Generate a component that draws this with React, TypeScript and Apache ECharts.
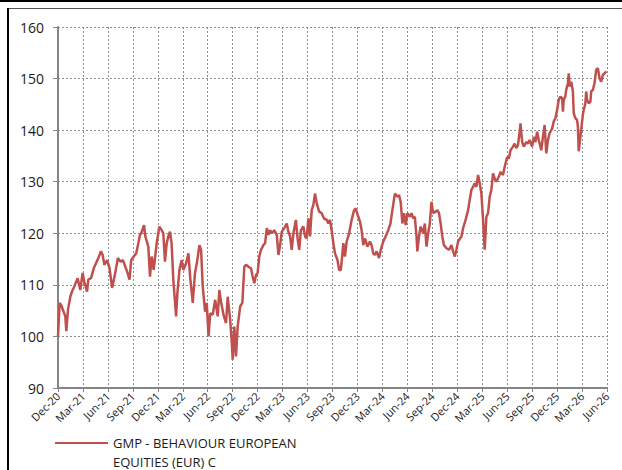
import React, { useEffect, useRef } from "react";
import * as echarts from "echarts";

const xLabels = [
  "Dec-20", "Mar-21", "Jun-21", "Sep-21", "Dec-21", "Mar-22", "Jun-22", "Sep-22",
  "Dec-22", "Mar-23", "Jun-23", "Sep-23", "Dec-23", "Mar-24", "Jun-24", "Sep-24",
  "Dec-24", "Mar-25", "Jun-25", "Sep-25", "Dec-25", "Mar-26", "Jun-26",
];

const seriesName = "GMP - BEHAVIOUR EUROPEAN\nEQUITIES (EUR) C";

// [months since Dec-20, value]
const nav2021: [number, number][] = [
  [0, 100], [0.2, 106.5], [0.4, 106], [0.88, 103.9], [1.0, 101], [1.2, 105.2], [1.48, 107.7],
  [1.68, 108.7], [1.96, 109.7], [2.36, 111.3], [2.68, 109], [2.96, 112.3], [3.16, 110.6],
  [3.49, 108.7], [3.65, 111], [3.97, 111.3], [4.3, 113.2], [4.57, 114.2], [4.85, 115.2],
  [5.17, 116.5], [5.37, 115.8], [5.57, 113.9], [5.9, 114.8], [6.2, 113.2], [6.5, 109.4],
  [6.8, 111.6], [7.2, 115.2], [7.5, 114.5], [7.8, 114.8], [8.1, 113.5], [8.3, 112.6],
  [8.6, 111], [8.8, 114.8], [9.1, 115.5], [9.4, 116.1], [9.7, 118.4], [9.86, 119.7],
  [10.0, 120], [10.34, 121.6], [10.5, 119.4], [10.86, 117.4], [11.06, 111.6], [11.26, 115.5],
  [11.5, 112.9], [11.86, 118],
];
const nav2022: [number, number][] = [
  [12.18, 121.3], [12.46, 120.6], [12.66, 120], [12.86, 114.5], [13.06, 118], [13.26, 119.4],
  [13.46, 120.3], [13.66, 118], [13.86, 111], [14.2, 103.9], [14.35, 108.4], [14.6, 112.9],
  [14.87, 114.8], [15.07, 112.9], [15.4, 114.2], [15.68, 116.1], [15.9, 111.3], [16.2, 106.5],
  [16.47, 112.3], [16.75, 114.8], [17.0, 117.7], [17.2, 116.8], [17.4, 109.7], [17.68, 104.8],
  [17.88, 106.5], [18.1, 100], [18.3, 104.5], [18.6, 104.2], [18.9, 107.1], [19.2, 103.9],
  [19.4, 109], [19.55, 107.1], [19.9, 104.2], [20.2, 102.6], [20.4, 107.7], [20.7, 103.2],
  [20.9, 98.7], [21.0, 95.5], [21.2, 101.9], [21.4, 96.1], [21.6, 101.9], [21.9, 105.8],
  [22.16, 106.5], [22.4, 113.5], [22.6, 113.9], [22.9, 113.5], [23.2, 113.2], [23.4, 111.6],
  [23.6, 110.3], [23.8, 111.9],
];
const nav2023: [number, number][] = [
  [24.0, 112.3], [24.2, 115.5], [24.4, 116.8], [24.7, 117.7], [24.9, 118.1], [25.1, 121],
  [25.3, 119.7], [25.5, 120.6], [25.7, 120], [26.0, 120.6], [26.3, 119.7], [26.5, 115.8],
  [26.7, 117.7], [26.9, 120.3], [27.2, 121], [27.5, 121.9], [27.7, 120.3], [27.9, 119.4],
  [28.1, 116.8], [28.3, 120], [28.6, 122.6], [28.8, 119], [29.0, 116.8], [29.2, 120.6],
  [29.5, 121.3], [29.7, 119.4], [29.9, 119], [30.1, 122.9], [30.3, 119.4], [30.5, 124.5],
  [30.7, 125.5], [30.9, 127.7], [31.1, 125.8], [31.4, 124.2], [31.7, 123.9], [31.97, 122.9],
  [32.3, 122.6], [32.5, 121.9], [32.7, 122.6], [32.9, 120.6], [33.1, 118.1], [33.3, 116.1],
  [33.6, 114.8], [33.8, 112.9], [34.0, 112.9], [34.2, 116.1], [34.3, 118.1], [34.5, 115.5],
  [34.7, 118.4], [35.0, 120], [35.3, 122.6], [35.6, 124.5], [35.8, 124.8],
];
const nav2024: [number, number][] = [
  [36.1, 123.2], [36.3, 122.3], [36.5, 120.6], [36.7, 117.7], [36.9, 119], [37.2, 117.4],
  [37.5, 118.4], [37.7, 117.7], [37.9, 116.1], [38.1, 115.8], [38.3, 116.5], [38.6, 115.2],
  [38.8, 116.8], [39.1, 118.4], [39.4, 119.4], [39.7, 120.6], [39.97, 121.9], [40.2, 124.5],
  [40.5, 127.7], [40.8, 127.1], [41.0, 127.4], [41.2, 126.1], [41.4, 121.9], [41.6, 123.9],
  [41.8, 121.6], [42.0, 123.9], [42.3, 123.2], [42.5, 123.9], [42.7, 122.9], [42.9, 123.2],
  [43.1, 119.4], [43.2, 116.5], [43.4, 119.4], [43.6, 121.3], [43.9, 120], [44.1, 121.9],
  [44.3, 117.4], [44.5, 120], [44.7, 121.9], [44.9, 126.1], [45.1, 123.9], [45.4, 124.2],
  [45.6, 124.5], [45.8, 123.9], [46.0, 121.9], [46.2, 119.4], [46.4, 117.7], [46.7, 117.1],
  [47.0, 116.8], [47.3, 117.7], [47.5, 116.5], [47.7, 115.5], [47.9, 116.8],
];
const nav2025: [number, number][] = [
  [48.1, 118.4], [48.5, 119.4], [48.7, 121], [49.0, 122.6], [49.3, 124.5], [49.5, 126.5],
  [49.7, 128.4], [49.9, 129], [50.1, 129.7], [50.3, 129], [50.5, 131.3], [50.7, 129.7],
  [50.9, 127.7], [51.1, 122.6], [51.3, 116.8], [51.5, 123.2], [51.7, 123.9], [51.9, 127.1],
  [52.1, 128.4], [52.3, 131.6], [52.5, 130.6], [52.7, 130], [53.0, 131], [53.2, 131.9],
  [53.5, 131.3], [53.7, 132.9], [54.0, 134.8], [54.2, 134.5], [54.4, 136.1], [54.7, 136.8],
  [54.9, 137.4], [55.1, 136.5], [55.3, 137.1], [55.5, 139.7], [55.6, 141.3], [55.8, 137.7],
  [56.0, 136.8], [56.3, 137.7], [56.5, 137.4], [56.7, 138.1], [57.0, 136.8], [57.2, 138.7],
  [57.4, 137.7], [57.6, 139.7], [57.8, 138.1], [58.1, 136.1], [58.3, 138.7], [58.5, 141],
  [58.7, 135.5], [58.9, 138.1], [59.1, 139.4], [59.4, 140.3], [59.6, 141.7], [59.8, 142.3],
];
const nav2026: [number, number][] = [
  [60.0, 143.9], [60.2, 145.9], [60.4, 146.5], [60.6, 146.2], [60.7, 143.6], [60.8, 145.9],
  [60.98, 146.5], [61.1, 147.8], [61.3, 149.1], [61.4, 151], [61.5, 148.5], [61.7, 149.4],
  [61.9, 147.5], [62.0, 143.3], [62.2, 142.3], [62.4, 142], [62.5, 140.7], [62.6, 135.9],
  [62.8, 138.8], [62.9, 140.1], [63.1, 143], [63.2, 143.9], [63.4, 145.2], [63.5, 147.5],
  [63.6, 145.9], [63.8, 145.2], [64.0, 145.5], [64.1, 147.5], [64.3, 147.8], [64.5, 149.1],
  [64.7, 151.7], [64.9, 152], [65.1, 150.1], [65.3, 149.4], [65.5, 150.7], [65.7, 151],
  [65.9, 151.4],
];

const lineColor = "#C0504D";
const axisGray = "#868686";
const gridGray = "#8C8C8C";
const fontFamily = "'Open Sans', 'Noto Sans', sans-serif";

// legend icon: a bar aligned with the first text line, inside a 53x38 box
const legendIcon =
  "path://M0,0 L0.01,0 L0,0.01 Z M0,9 L53,9 L53,11 L0,11 Z M53,38 L52.99,38 L53,37.99 Z";

export default function App() {
  const ref = useRef<HTMLDivElement>(null);

  useEffect(() => {
    if (!ref.current) return;
    const chart = echarts.init(ref.current, undefined, { renderer: "svg" });
    const data = [...nav2021, ...nav2022, ...nav2023, ...nav2024, ...nav2025, ...nav2026];
    chart.setOption({
      animation: false,
      backgroundColor: "#ffffff",
      textStyle: { fontFamily },
      grid: { left: 58, right: 15, top: 27, bottom: 82, containLabel: false },
      legend: {
        left: 55,
        top: 433,
        padding: 0,
        itemWidth: 53,
        itemHeight: 38,
        data: [{ name: seriesName, icon: legendIcon }],
        itemStyle: { color: lineColor },
        textStyle: {
          fontFamily,
          fontSize: 13,
          color: "#1a1a1a",
          lineHeight: 19,
        },
      },
      xAxis: {
        type: "value",
        min: 0,
        max: 66,
        interval: 3,
        axisLine: { show: true, lineStyle: { color: axisGray, width: 2 } },
        axisTick: { show: true, length: 4, lineStyle: { color: axisGray, width: 1 } },
        axisLabel: {
          rotate: 45,
          margin: 6,
          fontSize: 11,
          color: "#1a1a1a",
          fontFamily,
          formatter: (v: number) => xLabels[Math.round(v / 3)] ?? "",
        },
        splitLine: { show: true, lineStyle: { color: gridGray, width: 1, type: [2, 2] } },
      },
      yAxis: {
        type: "value",
        min: 90,
        max: 160,
        interval: 10,
        axisLine: { show: true, lineStyle: { color: axisGray, width: 2 } },
        axisTick: { show: true, length: 5, lineStyle: { color: axisGray, width: 1 } },
        axisLabel: { margin: 14, fontSize: 14, color: "#1a1a1a", fontFamily },
        splitLine: { show: true, lineStyle: { color: gridGray, width: 1, type: [2, 2] } },
      },
      series: [
        {
          name: seriesName,
          type: "line",
          data,
          symbol: "none",
          lineStyle: { color: lineColor, width: 2.5 },
          itemStyle: { color: lineColor },
        },
      ],
    });
    return () => chart.dispose();
  }, []);

  return (
    <div style={{ position: "fixed", left: 0, top: 0, width: 622, height: 470, background: "#fff" }}>
      <div ref={ref} style={{ position: "absolute", left: 0, top: 0, width: 622, height: 470 }} />
      <div style={{ position: "absolute", left: 0, top: 0, width: 622, height: 2, background: "#000" }} />
      <div style={{ position: "absolute", left: 7, top: 8, width: 615, height: 1, background: "#555" }} />
      <div style={{ position: "absolute", left: 7, top: 8, width: 2, height: 462, background: "#000" }} />
    </div>
  );
}
